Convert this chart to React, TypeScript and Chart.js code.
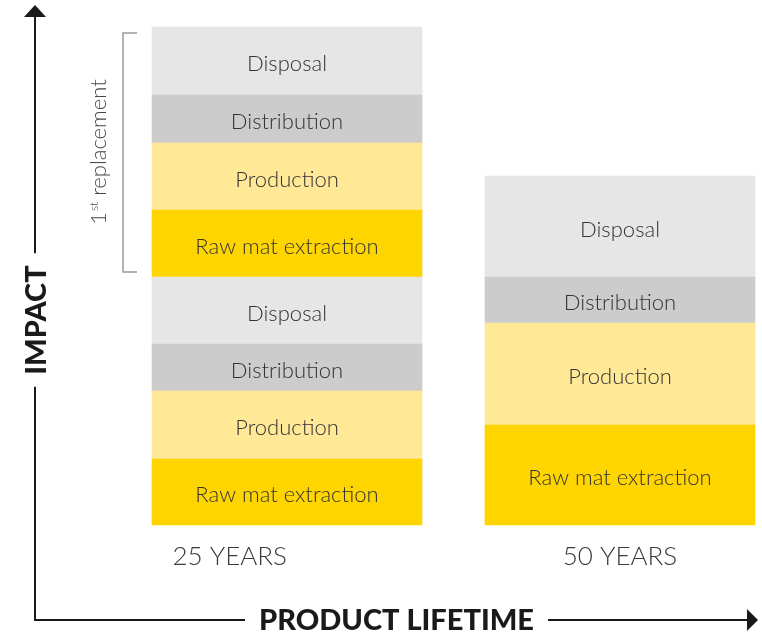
import React, { useEffect, useRef } from "react";
import { Chart, registerables } from "chart.js";

Chart.register(...registerables);

// ---- data ----
const categories = ["25 YEARS", "50 YEARS"];
const rawMatExtraction = [6.6, 10.0];
const production = [6.8, 10.2];
const distribution = [4.7, 4.6];
const disposal = [6.7, 10.1];
// first replacement (only for the 25-year product)
const rawMatExtractionReplacement = [6.7, null];
const productionReplacement = [6.7, null];
const distributionReplacement = [4.8, null];
const disposalReplacement = [6.8, null];

const yMax = 52;

const COLORS = {
  raw: "#FFD500",
  production: "#FFE896",
  distribution: "#CCCCCC",
  disposal: "#E6E6E6",
};

const LABEL_FONT = "Lato, 'Open Sans', sans-serif";

const overlayPlugin = {
  id: "overlay",
  afterDatasetsDraw(chart: any) {
    const { ctx, chartArea } = chart;
    ctx.save();

    // labels inside bar segments
    ctx.fillStyle = "#333333";
    ctx.font = `300 22px ${LABEL_FONT}`;
    ctx.textAlign = "center";
    ctx.textBaseline = "middle";
    chart.data.datasets.forEach((ds: any, di: number) => {
      const meta = chart.getDatasetMeta(di);
      meta.data.forEach((el: any, i: number) => {
        const v = ds.data[i];
        if (v === null || v === undefined) return;
        const cy = (el.y + el.base) / 2;
        ctx.fillText(ds.label, el.x, cy + 3);
      });
    });

    // category labels under bars
    const xScale = chart.scales.x;
    ctx.font = `300 26px ${LABEL_FONT}`;
    ctx.fillStyle = "#3a3a3a";
    const aligns = ["right", "center"];
    categories.forEach((c, i) => {
      ctx.textAlign = aligns[i];
      ctx.fillText(c, xScale.getPixelForValue(i), chartArea.bottom + 32);
    });

    // bracket for first replacement
    const topMeta = chart.getDatasetMeta(7).data[0];
    const botMeta = chart.getDatasetMeta(4).data[0];
    const bTop = topMeta.y + 6;
    const bBot = botMeta.base - 5;
    const bx = topMeta.x - 164;
    ctx.strokeStyle = "#9a9a9a";
    ctx.lineWidth = 1.5;
    ctx.beginPath();
    ctx.moveTo(bx + 14, bTop);
    ctx.lineTo(bx, bTop);
    ctx.lineTo(bx, bBot);
    ctx.lineTo(bx + 14, bBot);
    ctx.stroke();

    // "1st replacement" rotated text
    ctx.save();
    ctx.translate(bx - 17, (bTop + bBot) / 2);
    ctx.rotate(-Math.PI / 2);
    ctx.fillStyle = "#444444";
    ctx.textBaseline = "alphabetic";
    ctx.textAlign = "left";
    const f1 = `300 22px ${LABEL_FONT}`;
    const f2 = `300 12px ${LABEL_FONT}`;
    ctx.font = f1;
    const w1 = ctx.measureText("1").width;
    const w3 = ctx.measureText(" replacement").width;
    ctx.font = f2;
    const w2 = ctx.measureText("st").width;
    let x0 = -(w1 + w2 + w3) / 2;
    ctx.font = f1;
    ctx.fillText("1", x0, 0);
    ctx.font = f2;
    ctx.fillText("st", x0 + w1 + 1, -8);
    ctx.font = f1;
    ctx.fillText(" replacement", x0 + w1 + w2 + 1, 0);
    ctx.restore();

    // axes with arrows
    const AX = 35;
    const AY = 620;
    const ARROW_TOP = 5;
    const ARROW_RIGHT = 758;
    ctx.strokeStyle = "#1a1a1a";
    ctx.fillStyle = "#1a1a1a";
    ctx.lineWidth = 2;

    // y title
    ctx.font = `900 29px ${LABEL_FONT}`;
    const impactW = ctx.measureText("IMPACT").width;
    const impactCy = 320;
    ctx.save();
    ctx.translate(AX + 1, impactCy);
    ctx.rotate(-Math.PI / 2);
    ctx.textAlign = "center";
    ctx.textBaseline = "middle";
    ctx.fillText("IMPACT", 0, 1);
    ctx.restore();

    // x title
    const titleCx = (AX + ARROW_RIGHT) / 2;
    const ltW = ctx.measureText("PRODUCT LIFETIME").width;
    ctx.textAlign = "center";
    ctx.textBaseline = "middle";
    ctx.fillText("PRODUCT LIFETIME", titleCx, AY + 1);

    ctx.beginPath();
    // vertical
    ctx.moveTo(AX, AY);
    ctx.lineTo(AX, impactCy + impactW / 2 + 12);
    ctx.moveTo(AX, impactCy - impactW / 2 - 12);
    ctx.lineTo(AX, ARROW_TOP + 10);
    // horizontal
    ctx.moveTo(AX - 1, AY);
    ctx.lineTo(titleCx - ltW / 2 - 14, AY);
    ctx.moveTo(titleCx + ltW / 2 + 14, AY);
    ctx.lineTo(ARROW_RIGHT - 10, AY);
    ctx.stroke();

    // arrowheads
    ctx.beginPath();
    ctx.moveTo(AX, ARROW_TOP);
    ctx.lineTo(AX + 11, ARROW_TOP + 12);
    ctx.lineTo(AX - 11, ARROW_TOP + 12);
    ctx.closePath();
    ctx.fill();
    ctx.beginPath();
    ctx.moveTo(ARROW_RIGHT, AY);
    ctx.lineTo(ARROW_RIGHT - 11, AY - 11);
    ctx.lineTo(ARROW_RIGHT - 11, AY + 11);
    ctx.closePath();
    ctx.fill();

    ctx.restore();
  },
};

export default function App() {
  const ref = useRef<HTMLCanvasElement | null>(null);

  useEffect(() => {
    if (!ref.current) return;
    const mk = (label: string, data: (number | null)[], color: string) => ({
      label,
      data,
      backgroundColor: color,
      borderWidth: 0,
      barThickness: 270,
      clip: false as const,
    });
    const chart = new Chart(ref.current, {
      type: "bar",
      data: {
        labels: categories,
        datasets: [
          mk("Raw mat extraction", rawMatExtraction, COLORS.raw),
          mk("Production", production, COLORS.production),
          mk("Distribution", distribution, COLORS.distribution),
          mk("Disposal", disposal, COLORS.disposal),
          mk("Raw mat extraction", rawMatExtractionReplacement, COLORS.raw),
          mk("Production", productionReplacement, COLORS.production),
          mk("Distribution", distributionReplacement, COLORS.distribution),
          mk("Disposal", disposalReplacement, COLORS.disposal),
        ],
      },
      options: {
        responsive: false,
        animation: false,
        layout: { padding: { left: 287, right: 142, top: 5, bottom: 109 } },
        plugins: {
          legend: { display: false },
          tooltip: { enabled: false },
        },
        scales: {
          x: { stacked: true, display: false, offset: false },
          y: { stacked: true, display: false, min: 0, max: yMax },
        },
      },
      plugins: [overlayPlugin],
    });
    return () => chart.destroy();
  }, []);

  return (
    <div style={{ position: "absolute", left: 0, top: 0, width: 762, height: 634, background: "#fff" }}>
      <canvas ref={ref} width={762} height={634} style={{ display: "block" }} />
    </div>
  );
}
